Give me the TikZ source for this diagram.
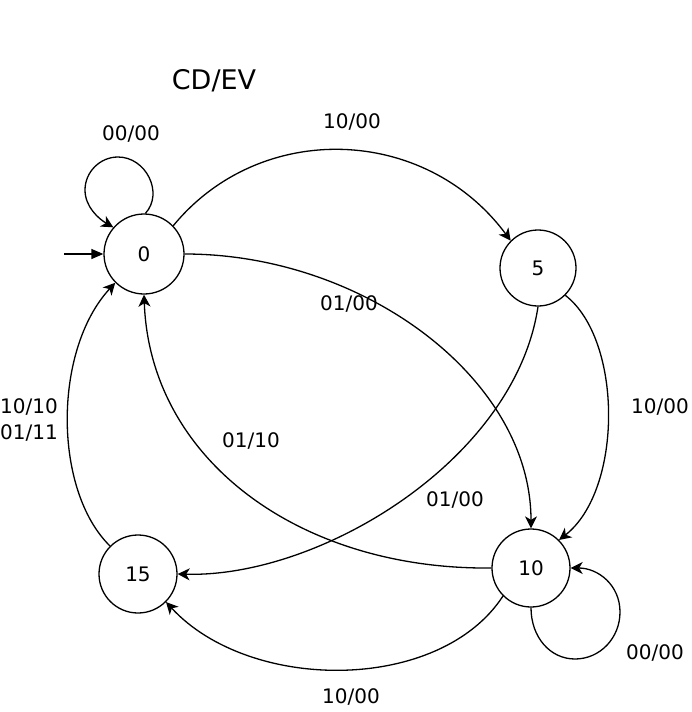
\documentclass[tikz,border=0pt]{standalone}
\usepackage{fontspec}
\setmainfont{DejaVu Sans}
\usetikzlibrary{arrows.meta}
\begin{document}
\begin{tikzpicture}[x=1pt,y=1pt,line width=1.3pt,
  state/.style={draw,circle,inner sep=0pt,font=\fontsize{20}{24}\selectfont},
  lbl/.style={font=\fontsize{20}{25}\selectfont,inner sep=0pt},
  trans/.style={-{Stealth[length=12pt,width=12pt,inset=3.5pt]}}]
\useasboundingbox (0,0) rectangle (692,-712);
\node[state,minimum size=80pt] (s0) at (144,-254) {0};
\node[state,minimum size=76pt] (s5) at (538,-268) {5};
\node[state,minimum size=78pt] (s10) at (531,-568) {10};
\node[state,minimum size=78pt] (s15) at (138,-574) {15};
\node[font=\fontsize{27}{32}\selectfont,inner sep=0pt] (title) at (214,-81) {CD/EV};
\coordinate (init) at (64,-254);
\draw[-{Triangle[length=12pt,width=10pt]}] (init) -- (s0.west);
\draw[trans] (s0.44) .. controls (260,-120) and (425,-125) .. (s5.135);
\draw[trans] (s0.east) .. controls (364,-254) and (531,-379) .. (s10.north);
\draw[trans] (s5.south) .. controls (515,-460) and (320,-578) .. (s15.east);
\draw[trans] (s10.west) .. controls (300,-570) and (150,-460) .. (s0.south);
\draw[trans] (s5.-45) .. controls (623,-340) and (623,-490) .. (s10.45);
\draw[trans] (s10.225) .. controls (440,-693) and (250,-693) .. (s15.-45);
\draw[trans] (s15.135) .. controls (53,-490) and (53,-350) .. (s0.225);
\draw[trans] (s0.88) .. controls (164,-193) and (146,-157) .. (118,-157)
  .. controls (100,-157) and (85,-172) .. (85,-190)
  .. controls (85,-207) and (99,-219) .. (s0.139);
\draw[trans] (s10.south) .. controls (531,-637) and (550,-659) .. (575,-659)
  .. controls (600,-659) and (620,-638) .. (620,-612)
  .. controls (620,-585) and (598,-568) .. (s10.east);
\node[lbl] (l05) at (352,-122) {10/00};
\node[lbl] (l00) at (131,-134) {00/00};
\node[lbl] (l010) at (349,-304) {01/00};
\node[lbl] (l510) at (660,-407) {10/00};
\node[lbl] (l100) at (251,-441) {01/10};
\node[lbl] (l515) at (455,-500) {01/00};
\node[lbl] (l1015) at (351,-697) {10/00};
\node[lbl] (l1010) at (655,-653) {00/00};
\node[lbl,align=left] (l150) at (29,-420) {10/10\\01/11};
\end{tikzpicture}
\end{document}
